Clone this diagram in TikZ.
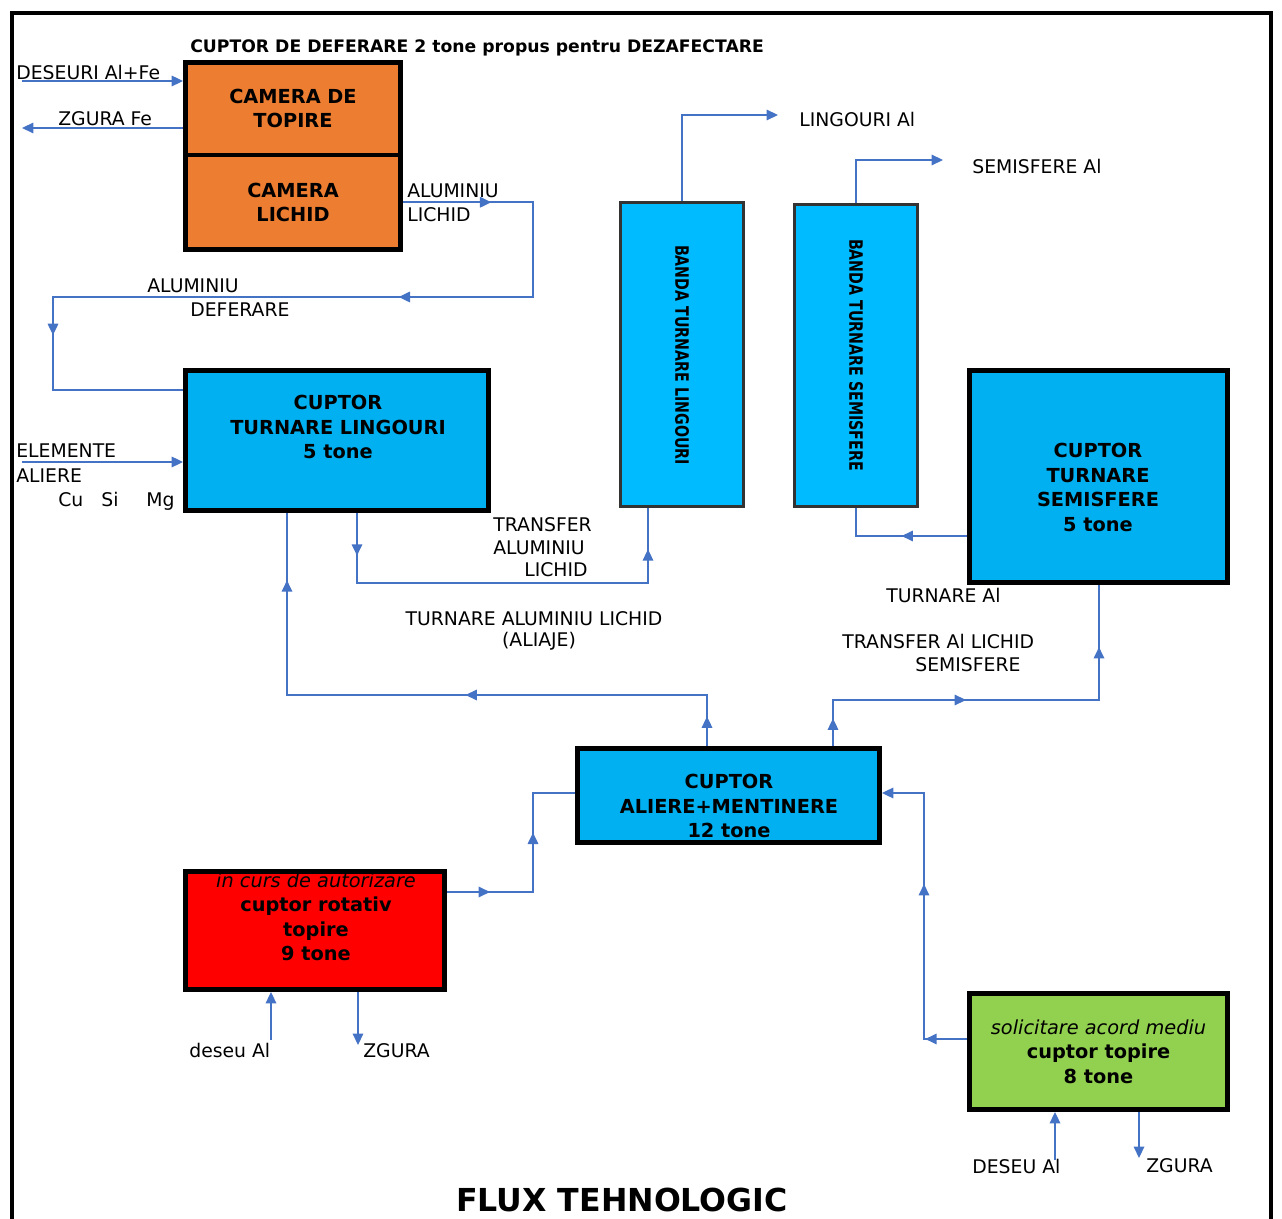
\documentclass[tikz,border=0pt]{standalone}
\usepackage{fontspec}
\setmainfont{DejaVu Sans}
\usetikzlibrary{arrows.meta,decorations.markings}
\definecolor{orangeF}{HTML}{ED7D31}
\definecolor{blueF}{HTML}{00B0F0}
\definecolor{bandF}{HTML}{00BBFF}
\definecolor{redF}{HTML}{FF0000}
\definecolor{greenF}{HTML}{92D050}
\definecolor{flowC}{HTML}{4472C4}
\tikzset{
  box/.style={draw=black, line width=2.8pt, inner sep=0pt, align=center,
    font=\bfseries\fontsize{11}{13.9}\selectfont},
  band/.style={draw=black!80, line width=1.6pt, fill=bandF, inner sep=0pt},
  btxt/.style={inner sep=0pt, align=center, font=\bfseries\fontsize{11}{13.9}\selectfont},
  vtxt/.style={inner sep=0pt, rotate=-90, font=\bfseries\fontsize{10.5}{12}\selectfont},
  flow/.style={draw=flowC, line width=0.9pt, line join=miter},
  tip/.style={-{Triangle[length=6.5pt,width=6pt]}},
  mid/.style={postaction={decorate},decoration={markings,
    mark=at position #1 with {\arrow{Triangle[length=6.5pt,width=6pt]}}}},
  lbl/.style={inner sep=0pt, anchor=west, font=\fontsize{10.7}{13.5}\selectfont},
  clbl/.style={inner sep=0pt, font=\fontsize{10.7}{13.5}\selectfont},
}
\begin{document}
\begin{tikzpicture}[x=0.02cm,y=-0.02cm]
\useasboundingbox (0,0) rectangle (1282,1219);
% frame
\draw[line width=2.3pt] (12,1219) -- (12,13) -- (1271,13) -- (1271,1219);

% boxes
\node[box, fill=orangeF, minimum width=4.3cm, minimum height=1.85cm] (camtop) at (293,108.75) {CAMERA DE\\TOPIRE};
\node[box, fill=orangeF, minimum width=4.3cm, minimum height=1.89cm] (camlich) at (293,202.25) {CAMERA\\LICHID};
\node[box, fill=blueF, minimum width=6.06cm, minimum height=2.8cm] (lingbox) at (337,440.5) {};
\node[btxt] (lingtxt) at (338,427) {CUPTOR\\TURNARE LINGOURI\\5 tone};
\node[band, minimum width=2.46cm, minimum height=6.08cm] (bandaL) at (682,354.5) {};
\node[vtxt] (bandaLtxt) at (682,355) {\scalebox{0.77}[1]{BANDA TURNARE LINGOURI}};
\node[band, minimum width=2.46cm, minimum height=6.04cm] (bandaS) at (856,355.5) {};
\node[vtxt] (bandaStxt) at (856,355) {\scalebox{0.77}[1]{BANDA TURNARE SEMISFERE}};
\node[box, fill=blueF, minimum width=5.16cm, minimum height=4.24cm] (semibox) at (1098.5,476.5) {};
\node[btxt] (semitxt) at (1098,487.5) {CUPTOR\\TURNARE\\SEMISFERE\\5 tone};
\node[box, fill=blueF, minimum width=6.04cm, minimum height=1.88cm] (alibox) at (728.5,795.5) {};
\node[btxt] (alitxt) at (729,806) {CUPTOR\\ALIERE+MENTINERE\\12 tone};
\node[box, fill=redF, minimum width=5.18cm, minimum height=2.36cm] (redbox) at (315,930.5) {};
\node[btxt] (redtxt) at (316,917) {{\mdseries\itshape in curs de autorizare}\\cuptor rotativ\\topire\\9 tone};
\node[box, fill=greenF, minimum width=5.16cm, minimum height=2.32cm] (greenbox) at (1098.5,1051.5) {{\mdseries\itshape solicitare acord mediu}\\cuptor topire\\8 tone};

% coordinates
\coordinate (dsin) at (22,81);
\coordinate (zfe) at (22,128);
\coordinate (a1) at (533,202.25);
\coordinate (a2) at (533,297);
\coordinate (a3) at (53,297);
\coordinate (a4) at (53,390);
\coordinate (el) at (22,462);
\coordinate (t1) at (357,583);
\coordinate (t2) at (648,583);
\coordinate (l1) at (682,115);
\coordinate (l2) at (778,115);
\coordinate (s1) at (856,160);
\coordinate (s2) at (943,160);
\coordinate (s3) at (856,536);
\coordinate (u1) at (707,695);
\coordinate (u2) at (287,695);
\coordinate (v1) at (833,700);
\coordinate (v2) at (1099,700);
\coordinate (r1) at (533,892);
\coordinate (r2) at (533,793);
\coordinate (g1) at (924,1039);
\coordinate (g2) at (924,793);
\coordinate (rd) at (271,1040);
\coordinate (rz) at (358,1045);
\coordinate (gd) at (1055,1160);
\coordinate (gz) at (1139,1158);

% connectors
\draw[flow,tip] (dsin) -- (camtop.west |- dsin);
\draw[flow,tip] (camtop.west |- zfe) -- (zfe);

\draw[flow] (camlich.east) -- (a1) -- (a2) -- (a3) -- (a4) -- (lingbox.west |- a4);
\draw[flow,mid=0.68] (camlich.east) -- (a1);
\draw[flow,mid=0.28] (a2) -- (a3);
\draw[flow,mid=0.41] (a3) -- (a4);

\draw[flow,tip] (el) -- (lingbox.west |- el);

\draw[flow] (lingbox.south -| t1) -- (t1) -- (t2) -- (bandaL.south -| t2);
\draw[flow,mid=0.61] (lingbox.south -| t1) -- (t1);
\draw[flow,mid=0.45] (t2) -- (bandaL.south -| t2);

\draw[flow,tip] (bandaL.north) -- (l1) -- (l2);
\draw[flow,tip] (bandaS.north) -- (s1) -- (s2);

\draw[flow] (semibox.west |- s3) -- (s3) -- (bandaS.south);
\draw[flow,mid=0.59] (semibox.west |- s3) -- (s3);

\draw[flow] (alibox.north -| u1) -- (u1) -- (u2) -- (lingbox.south -| u2);
\draw[flow,mid=0.58] (alibox.north -| u1) -- (u1);
\draw[flow,mid=0.575] (u1) -- (u2);
\draw[flow,mid=0.63] (u2) -- (lingbox.south -| u2);

\draw[flow] (alibox.north -| v1) -- (v1) -- (v2) -- (semibox.south -| v2);
\draw[flow,mid=0.6] (alibox.north -| v1) -- (v1);
\draw[flow,mid=0.5] (v1) -- (v2);
\draw[flow,mid=0.46] (v2) -- (semibox.south -| v2);

\draw[flow] (redbox.east |- r1) -- (r1) -- (r2) -- (alibox.west |- r2);
\draw[flow,mid=0.5] (redbox.east |- r1) -- (r1);
\draw[flow,mid=0.6] (r1) -- (r2);

\draw[flow,tip] (greenbox.west |- g1) -- (g1) -- (g2) -- (alibox.east |- g2);
\draw[flow,mid=0.97] (greenbox.west |- g1) -- (g1);
\draw[flow,mid=0.63] (g1) -- (g2);

\draw[flow,tip] (rd) -- (redbox.south -| rd);
\draw[flow,tip] (redbox.south -| rz) -- (rz);
\draw[flow,tip] (gd) -- (greenbox.south -| gd);
\draw[flow,tip] (greenbox.south -| gz) -- (gz);

% labels
\node[lbl, font=\bfseries\fontsize{9.8}{12}\selectfont] (title) at (190,48) {CUPTOR DE DEFERARE 2 tone propus pentru DEZAFECTARE};
\node[lbl] (ldes) at (16,72) {DESEURI Al+Fe};
\node[lbl] (lzfe) at (58,119) {ZGURA Fe};
\node[lbl] (lal1) at (407,191) {ALUMINIU};
\node[lbl] (lal2) at (407,215) {LICHID};
\node[lbl] (ldf1) at (147,286) {ALUMINIU};
\node[lbl] (ldf2) at (190,310) {DEFERARE};
\node[lbl] (lel1) at (16,451) {ELEMENTE};
\node[lbl] (lel2) at (16,476) {ALIERE};
\node[lbl, anchor=base west] (lcu) at (58,507) {Cu};
\node[lbl, anchor=base west] (lsi) at (101,507) {Si};
\node[lbl, anchor=base west] (lmg) at (146,507) {Mg};
\node[lbl] (ltr1) at (493,525) {TRANSFER};
\node[lbl] (ltr2) at (493,548) {ALUMINIU};
\node[lbl] (ltr3) at (524,570) {LICHID};
\node[lbl] (lling) at (799,119) {LINGOURI Al};
\node[lbl] (lsemi) at (972,166) {SEMISFERE Al};
\node[clbl] (ltal1) at (534,619) {TURNARE ALUMINIU LICHID};
\node[clbl] (ltal2) at (539,641) {(ALIAJE)};
\node[lbl] (ltai) at (886,595) {TURNARE Al};
\node[lbl] (ltl1) at (842,641) {TRANSFER Al LICHID};
\node[lbl] (ltl2) at (915,665) {SEMISFERE};
\node[lbl] (lrd) at (189,1050) {deseu Al};
\node[lbl] (lrz) at (363,1051) {ZGURA};
\node[lbl] (lgd) at (972,1166) {DESEU Al};
\node[lbl] (lgz) at (1146,1166) {ZGURA};
\node[inner sep=0pt, font=\bfseries\fontsize{18}{20}\selectfont] (flux) at (622,1200) {FLUX TEHNOLOGIC};
\end{tikzpicture}
\end{document}
